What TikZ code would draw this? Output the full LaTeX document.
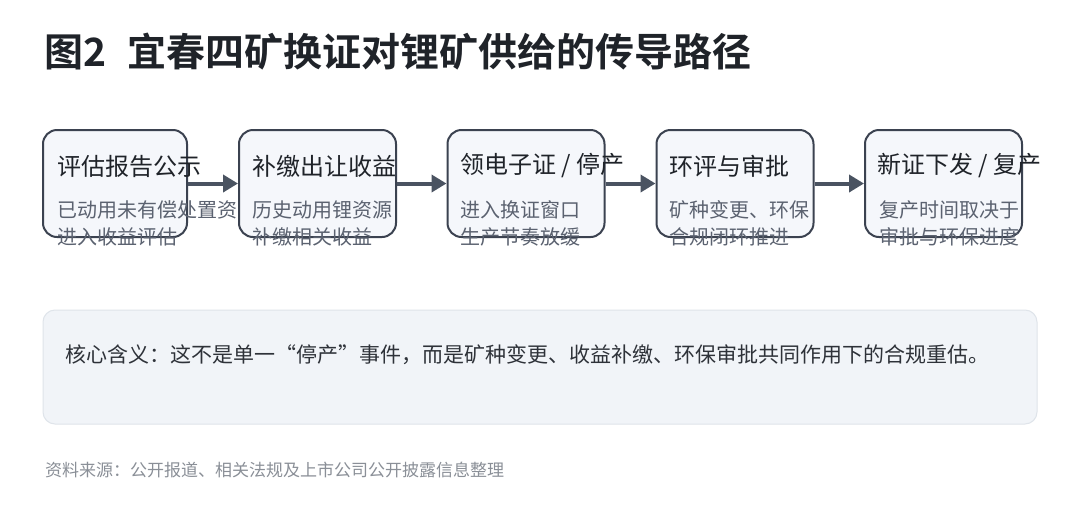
\documentclass[tikz,border=0pt]{standalone}
\usepackage{fontspec}
\setmainfont{Noto Sans CJK SC}
\newfontfamily\cjkb{Noto Sans CJK SC Bold}
\usetikzlibrary{arrows.meta}
\definecolor{boxline}{HTML}{3B4250}
\definecolor{boxfill}{HTML}{F5F7FB}
\definecolor{titletext}{HTML}{1F2329}
\definecolor{subtext}{HTML}{5B6270}
\definecolor{arrowcol}{HTML}{4A5361}
\definecolor{corefill}{HTML}{F1F4F8}
\definecolor{coreline}{HTML}{DFE4EA}
\definecolor{coretext}{HTML}{2E3239}
\definecolor{foottext}{HTML}{8A8F97}
\tikzset{
  stepbox/.style={draw=boxline, fill=boxfill, line width=2pt, rounded corners=14pt,
    minimum height=107pt, inner sep=0pt},
  steptitle/.style={anchor=west, inner sep=0pt, text=titletext, font=\fontsize{24pt}{28pt}\selectfont},
  stepsub/.style={anchor=west, inner sep=0pt, text=subtext, font=\fontsize{20pt}{24pt}\selectfont},
  flow/.style={draw=arrowcol, line width=4pt, -{Triangle[length=15pt,width=17pt]}},
  corebox/.style={draw=coreline, fill=corefill, line width=1pt, rounded corners=12pt, inner sep=0pt},
}
\begin{document}
\begin{tikzpicture}[x=1pt, y=-1pt]
\useasboundingbox[fill=white] (0,0) rectangle (1080,504);
% title
\node[anchor=west, inner sep=0pt, text=titletext, font=\cjkb\fontsize{39pt}{45pt}\selectfont] (title) at (44,52) {图2\hspace{0.55em}宜春四矿换证对锂矿供给的传导路径};
% boxes
\node[stepbox, minimum width=144pt] (b1) at (115,183.5) {};
\node[stepbox, minimum width=157pt] (b2) at (317.5,183.5) {};
\node[stepbox, minimum width=157pt] (b3) at (526,183.5) {};
\node[stepbox, minimum width=157pt] (b4) at (735,183.5) {};
\node[stepbox, minimum width=157pt] (b5) at (943.5,183.5) {};
% arrows
\draw[flow] (b1.east) -- (b2.west);
\draw[flow] (b2.east) -- (b3.west);
\draw[flow] (b3.east) -- (b4.west);
\draw[flow] (b4.east) -- (b5.west);
% box texts
\node[steptitle] (t1) at (57,166) {评估报告公示};
\node[stepsub] (s1a) at (57,210) {已动用未有偿处置资};
\node[stepsub] (s1b) at (57,237) {进入收益评估};
\node[steptitle] (t2) at (252,166) {补缴出让收益};
\node[stepsub] (s2a) at (252,210) {历史动用锂资源};
\node[stepsub] (s2b) at (252,237) {补缴相关收益};
\node[steptitle] (t3) at (460,166) {领电子证 / 停产};
\node[stepsub] (s3a) at (460,210) {进入换证窗口};
\node[stepsub] (s3b) at (460,237) {生产节奏放缓};
\node[steptitle] (t4) at (669,166) {环评与审批};
\node[stepsub] (s4a) at (669,210) {矿种变更、环保};
\node[stepsub] (s4b) at (669,237) {合规闭环推进};
\node[steptitle] (t5) at (877,166) {新证下发 / 复产};
\node[stepsub] (s5a) at (879,210) {复产时间取决于};
\node[stepsub] (s5b) at (879,237) {审批与环保进度};
% core box
\node[corebox, minimum width=994pt, minimum height=114pt] (core) at (540,367) {};
\node[anchor=west, inner sep=0pt, text=coretext, font=\fontsize{21pt}{25pt}\selectfont] (coretxt) at (65,355) {核心含义：这不是单一“停产”事件，而是矿种变更、收益补缴、环保审批共同作用下的合规重估。};
% footer
\node[anchor=west, inner sep=0pt, text=foottext, font=\fontsize{17pt}{21pt}\selectfont] (foot) at (45,470) {资料来源：公开报道、相关法规及上市公司公开披露信息整理};
\end{tikzpicture}
\end{document}
